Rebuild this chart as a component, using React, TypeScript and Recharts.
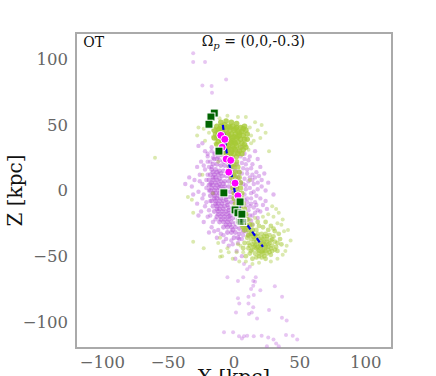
import { ScatterChart, Scatter, XAxis, YAxis, ReferenceArea, ReferenceDot } from "recharts";

type Pair = number[];

const xTicks = [-100, -50, 0, 50, 100];
const yTicks = [-100, -50, 0, 50, 100];

// faint purple stars far from the stream
const purpleFar: Pair[] = [
  [-31, 104.6], [-31, 98], [-22, 98], [-6, 84.6], [-24, 80], [-17, 79.7], [-16.7, 74.4],
  [3, -82], [11, -81], [15, -79.6], [20, -76], [36.5, -81], [4, -86], [11, -86], [14.6, -89],
  [26.6, -91], [1.5, -93], [11.4, -94], [13.5, -93], [17.5, -97.6], [36.4, -97], [40, -99],
  [-7.6, -108], [-0.7, -108], [3.8, -111], [6, -112.7], [7.6, -111], [10, -110.6], [15, -111],
  [21, -110.6], [26, -112], [30, -113.5], [32, -116.5], [34, -118.7], [25, -118.7], [39.5, -110],
  [44.6, -110.6], [48, -113.5], [-5, -66], [3, -69], [7, -66], [16.5, -66], [14.6, -69], [16, -69.6],
  [14.6, -72.6], [13, -75], [31, -73], [10, -60], [12, -58], [7.6, -56],
];

const purpleHalo: Pair[] = [
  [-22, 30], [-20, 26], [-25, 22], [-18, 22], [-28, 18], [-22, 16], [-30, 8], [-26, 12], [-24, 5], [-32, 3],
  [-20, 28], [-17, 33], [-24, 36], [-27, 34], [16, 30], [12, 26], [18, 24], [14, 20], [20, 18], [23, 13],
  [17, 14], [26, 6], [21, 8], [12, 10], [15, 5], [24, 0], [18, 1], [30, -3], [20, -6], [16, -9],
  [-31, -3], [-27, -1], [-24, -6], [-28, -10], [-22, -12], [-25, -16], [-20, -20], [-23, -24], [-17, -28], [-19, -32],
  [-13, -36], [-8, -39], [-4, -42], [-12, -30], [-8, -34], [-2, -38], [2, -46], [6, -50], [1, -52],
  [22, -11], [25, -14], [18, -15], [14, -19], [18, -21], [-34, 10], [-37, 5], [-20, 12], [-17, 18], [-18, 5],
  [-16, -2], [-18, -8], [-15, 28], [-13, 24], [10, 16], [9, 4], [10, -6], [12, -12], [8, -28], [11, -34],
  [6, 33], [3, 30], [8, 28], [-27, -19], [-14, -22], [-19, 0], [-21, 8], [14, 12], [24, -8], [13, -2],
  [-23, 19], [-26, 7], [-21, 2], [-23, -3], [-21, -9], [-19, -15], [-18, -19], [-16, -24], [-15, -31], [-10, -33],
  [-6, -37], [-1, -41], [3, -40], [6, -37], [-20, 22], [-19, 18], [-16, 25], [-17, 30], [-12, 31], [-8, 30],
];

// purple stars on the right of the green stream
const purpleRight: Pair[] = [
  [5, 26], [8, 24], [11, 23], [6, 21], [9, 20], [13, 17], [7, 17], [10, 13], [6, 13], [8, 9],
  [11, 7], [14, 8], [7, 5], [9, 1], [12, 2], [15, -1], [8, -3], [10, -9], [13, -6], [17, -4],
  [8, -7], [11, -15], [9, -12], [13, -10], [12, -19], [15, -13], [16, -17], [10, -22], [13, -23], [11, -27],
  [14, -26], [7, -34], [4, -37], [9, -31], [19, 11], [18, 6], [21, 3], [17, -11], [20, -16], [16, 10],
];

const purpleCore: Pair[] = [
  [-14, 28], [-12, 26], [-9, 27], [-6, 26], [-3, 25], [-15, 24], [-11, 23], [-8, 22], [-5, 23], [-2, 21],
  [-16, 20], [-13, 20], [-10, 19], [-7, 19], [-4, 18], [-1, 18], [2, 20], [-17, 16], [-14, 16], [-11, 15],
  [-8, 15], [-5, 14], [-2, 14], [1, 15], [4, 14], [-18, 12], [-15, 12], [-12, 12], [-9, 11], [-6, 11],
  [-3, 10], [0, 11], [3, 10], [-19, 8], [-16, 8], [-13, 8], [-10, 7], [-7, 7], [-4, 7], [-1, 6],
  [2, 7], [5, 6], [-19, 4], [-16, 4], [-13, 4], [-10, 3], [-7, 3], [-4, 3], [-1, 2], [2, 3],
  [-18, 0], [-15, 0], [-12, 0], [-9, -1], [-6, -1], [-3, -1], [0, -2], [3, -1], [-18, -4], [-15, -4],
  [-12, -4], [-9, -4], [-6, -5], [-3, -5], [0, -6], [3, -5], [-17, -8], [-14, -8], [-11, -8], [-8, -8],
  [-5, -9], [-2, -9], [1, -9], [4, -9], [-16, -12], [-13, -12], [-10, -12], [-7, -12], [-4, -13], [-1, -13],
  [2, -13], [5, -12], [-15, -16], [-12, -16], [-9, -16], [-6, -16], [-3, -17], [0, -17], [3, -16], [-13, -20],
  [-10, -20], [-7, -20], [-4, -20], [-1, -21], [2, -21], [5, -20], [-11, -24], [-8, -24], [-5, -24], [-2, -24],
  [1, -25], [4, -24], [7, -24], [-8, -28], [-5, -28], [-2, -28], [1, -28], [4, -29], [-5, -32], [-2, -32],
  [1, -32], [4, -33], [7, -31], [0, -36], [3, -36],
  [-13, 14], [-10, 13], [-14, 10], [-11, 9], [-14, 6], [-11, 5], [-14, 2], [-11, 2], [-14, -2], [-11, -2],
  [-13, -6], [-10, -6], [-12, -10], [-9, -10], [-11, -14], [-8, -14], [-9, -18], [-6, -18], [-7, -22], [-4, -22],
  [-6, -26], [-3, -26], [-1, -30], [-8, 5], [-8, 1], [-7, -3], [-6, -7], [-5, -11], [-4, -15], [-3, -19],
  [-16, 14], [-16, 10], [-17, 6], [-17, 2], [-16, -2], [-15, -6], [-14, -10], [-13, -14], [-12, -18], [-10, -22],
];

const greenStray: Pair[] = [
  [-60, 25], [26.6, 30], [-31, -17], [-31, -39], [-23, -44], [-35, -5], [-32, -7], [-10.6, -36], [-12, -40],
  [-10, -46], [-9, -50], [-10.6, -50.5], [-1, -52], [21, 50], [18, 46], [24, 44], [20, 40], [15, 38], [-27, 48],
  [-28, 42], [-22, 38], [-17, 50], [-23, 47], [-19, 44], [16, 52], [12, 48], [9, 56], [3, 56], [-5, 57],
  [-11, 55], [32, -14], [37, -22], [41, -30], [43, -38], [39, -46], [-16, -2], [-24, 12], [-12, 22], [12, 8], [-5, -44],
  [2, -47], [5, -42], [34, -17], [30, -20], [29, -12], [-4, -47], [3, -41], [7, -47], [9, -54], [4, -54],
  [38, -31], [36, -26], [33, -25], [40, -42], [37, -49], [33, -52], [28, -54], [14, -56], [19, -55], [12, -22],
  [26, -18], [22, -20], [16, -21], [-15, 47], [-16, 41], [13, 42], [13, 36], [11, 31], [-14, 36],
];

const greenTop: Pair[] = [
  [-10, 52], [-6, 53], [-2, 52], [2, 51], [-13, 49], [-10, 49], [-7, 50], [-4, 49], [-1, 49], [2, 48],
  [5, 48], [8, 49], [-15, 46], [-12, 46], [-9, 46], [-6, 46], [-3, 46], [0, 46], [3, 45], [6, 45],
  [9, 46], [-14, 43], [-11, 43], [-8, 43], [-5, 43], [-2, 43], [1, 43], [4, 42], [7, 42], [10, 43],
  [-13, 40], [-10, 40], [-7, 40], [-4, 40], [-1, 40], [2, 40], [5, 39], [8, 39], [-12, 37], [-9, 37],
  [-6, 37], [-3, 37], [0, 37], [3, 37], [6, 36], [-10, 34], [-7, 34], [-4, 34], [-1, 34], [2, 34],
  [5, 33], [-8, 31], [-5, 31], [-2, 31], [1, 31], [4, 30], [-6, 28], [-3, 28], [0, 28], [3, 28],
  [-11, 47], [-7, 48], [-3, 48], [1, 47], [-12, 42], [-8, 41], [-4, 42], [0, 41], [4, 44], [-9, 38],
  [-5, 38], [-1, 38], [3, 41], [-6, 35], [-2, 36], [1, 36], [-4, 32], [0, 32], [-2, 29], [7, 47],
  [10, 39], [8, 35], [7, 31], [-13, 35], [-11, 31], [-12, 44], [-15, 40], [9, 33], [6, 28], [-8, 28],
];

const greenStream: Pair[] = [
  [-4, 26], [-1, 25], [2, 26], [-4, 22], [-1, 22], [2, 22], [-3, 18], [0, 18], [3, 18], [-2, 14],
  [1, 14], [4, 14], [-2, 10], [1, 10], [4, 10], [-1, 6], [2, 6], [5, 6], [-1, 2], [2, 2],
  [5, 2], [0, -2], [3, -2], [6, -2], [0, -6], [3, -6], [6, -6], [1, -10], [4, -10], [7, -10],
  [2, -14], [5, -14], [8, -14], [3, -18], [6, -18], [9, -18], [4, -22], [7, -22], [10, -22], [6, -26],
  [9, -26], [12, -26], [8, -30], [11, -30], [14, -30], [-3, 24], [0, 20], [0, 12], [1, 4], [2, -4],
  [3, -12], [5, -20], [8, -24], [10, -28], [13, -33], [15, -35], [11, -34], [7, -28],
];

const greenBottom: Pair[] = [
  [14, -26], [18, -24], [24, -24], [28, -27], [22, -28], [17, -30], [26, -30], [31, -31], [14, -33], [18, -33],
  [21, -33], [24, -33], [27, -34], [30, -35], [34, -33], [10, -36], [13, -37], [16, -37], [19, -37], [22, -37],
  [25, -37], [28, -38], [31, -39], [35, -37], [8, -40], [11, -40], [14, -41], [17, -41], [20, -41], [23, -41],
  [26, -41], [29, -42], [32, -43], [36, -41], [7, -44], [11, -44], [14, -45], [17, -44], [20, -44], [23, -45],
  [26, -45], [29, -46], [33, -46], [12, -48], [16, -48], [19, -48], [22, -48], [25, -48], [28, -49], [17, -51],
  [21, -51], [24, -52], [14, -52], [9, -50], [20, -39], [23, -39], [18, -43], [21, -43], [24, -43], [19, -46],
  [22, -46], [26, -43], [21, -36], [17, -39], [15, -43], [27, -47], [12, -42], [33, -40], [30, -29], [19, -27],
  [20, -42], [22, -40], [24, -42], [18, -45], [21, -47], [24, -46], [25, -39], [27, -40], [16, -42], [28, -44],
  [18, -35], [23, -35], [25, -35], [15, -39], [19, -50], [23, -50], [13, -46], [31, -45], [29, -37], [16, -34],
];

const meanLine: Pair[] = [
  [-8.5, 50], [-5.5, 28.5], [-1, 8], [1.3, -4.7], [8.4, -24], [14.7, -32.6], [22, -43],
];

const magentaDots: Pair[] = [
  [-10, 42], [-7, 39], [-9, 33], [-6, 24], [-2.5, 23], [-4, 14], [0.8, 5.6], [3, -4],
];

const fadedSquares: Pair[] = [
  [5, -20], [6, -22], [4, -23], [7, -24], [5, -24],
];

const darkSquares: Pair[] = [
  [-15, 59], [-17.5, 56], [-19, 50.5], [-11.4, 30], [-7.7, -1.8], [4.6, -8.7], [0.8, -14.8], [3, -17], [6, -18],
];

const toPoints = (rows: Pair[]) => rows.map(([x, z]) => ({ x, z }));
const formatTick = (v: number) => String(v).replace("-", "\u2212");

const FONT = "'DejaVu Serif', serif";

function dot(r: number, fill: string, opacity: number) {
  return (p: any) => <circle cx={p.cx} cy={p.cy} r={r} fill={fill} fillOpacity={opacity} />;
}

function square(half: number, fill: string, opacity: number) {
  return (p: any) => (
    <rect
      x={p.cx - half}
      y={p.cy - half}
      width={half * 2}
      height={half * 2}
      fill={fill}
      fillOpacity={opacity}
      stroke="#fff"
      strokeWidth={1}
    />
  );
}

function Caption({ viewBox }: any) {
  const left = viewBox.x;
  return (
    <text y={viewBox.y} fontFamily={FONT} fontSize={14} fill="#111">
      <tspan x={left}>{"\u03a9"}</tspan>
      <tspan fontSize={10} dy={3} fontStyle="italic">p</tspan>
      <tspan dy={-3}> = (0,0,-0.3)</tspan>
    </text>
  );
}

export default function App() {
  return (
    <div style={{ position: "absolute", left: 0, top: 0, width: 436, height: 376, overflow: "hidden", background: "#fff" }}>
      <ScatterChart width={436} height={376} margin={{ top: 33, right: 44, bottom: 0, left: 0 }}>
        <XAxis
          type="number"
          dataKey="x"
          domain={[-120, 120]}
          ticks={xTicks}
          tickFormatter={formatTick}
          axisLine={false}
          tickLine={false}
          height={28}
          tickMargin={2}
          tick={{ fontFamily: FONT, fontSize: 16.5, fill: "#666" }}
          label={{ value: "X [kpc]", position: "bottom", offset: -6, style: { fontFamily: FONT, fontSize: 20, fill: "#111" } }}
          allowDataOverflow
        />
        <YAxis
          type="number"
          dataKey="z"
          domain={[-120, 120]}
          ticks={yTicks}
          tickFormatter={formatTick}
          axisLine={false}
          tickLine={false}
          width={76}
          tickMargin={2}
          tick={{ fontFamily: FONT, fontSize: 16.5, fill: "#666" }}
          label={{ value: "Z [kpc]", angle: -90, position: "insideLeft", offset: 15, style: { fontFamily: FONT, fontSize: 20, fill: "#111", textAnchor: "middle" } }}
          allowDataOverflow
        />
        <Scatter data={toPoints(purpleFar)} shape={dot(2, "#b44fd6", 0.32)} isAnimationActive={false} />
        <Scatter data={toPoints(purpleHalo)} shape={dot(2.2, "#b44fd6", 0.4)} isAnimationActive={false} />
        <Scatter data={toPoints(purpleRight)} shape={dot(2.2, "#b44fd6", 0.4)} isAnimationActive={false} />
        <Scatter data={toPoints(purpleCore)} shape={dot(2.4, "#b44fd6", 0.5)} isAnimationActive={false} />
        <Scatter data={toPoints(greenStray)} shape={dot(2, "#a6c936", 0.4)} isAnimationActive={false} />
        <Scatter data={toPoints(greenTop)} shape={dot(2.8, "#a6c936", 0.8)} isAnimationActive={false} />
        <Scatter data={toPoints(greenStream)} shape={dot(2.6, "#a6c936", 0.7)} isAnimationActive={false} />
        <Scatter data={toPoints(greenBottom)} shape={dot(2.4, "#a6c936", 0.55)} isAnimationActive={false} />
        <Scatter
          data={toPoints(meanLine)}
          line={{ stroke: "#0000ee", strokeWidth: 2.2, strokeDasharray: "5 3" }}
          shape={() => <g />}
          isAnimationActive={false}
        />
        <Scatter data={toPoints(magentaDots)} shape={(p: any) => <circle cx={p.cx} cy={p.cy} r={4} fill="#ff00ff" stroke="#fff" strokeWidth={1} />} isAnimationActive={false} />
        <Scatter data={toPoints(fadedSquares)} shape={square(3.5, "#006400", 0.35)} isAnimationActive={false} />
        <Scatter data={toPoints(darkSquares)} shape={square(4, "#006400", 1)} isAnimationActive={false} />
        <ReferenceArea x1={-120} x2={120} y1={-120} y2={120} fill="none" stroke="#aaaaaa" strokeWidth={2} />
        <ReferenceDot
          x={-114.5}
          y={113}
          r={0}
          stroke="none"
          fill="none"
          label={{ value: "OT", position: "right", offset: 0, style: { fontFamily: FONT, fontSize: 14, fill: "#111" } }}
        />
        <ReferenceDot x={-24.5} y={110} r={0} stroke="none" fill="none" label={<Caption />} />
      </ScatterChart>
    </div>
  );
}
